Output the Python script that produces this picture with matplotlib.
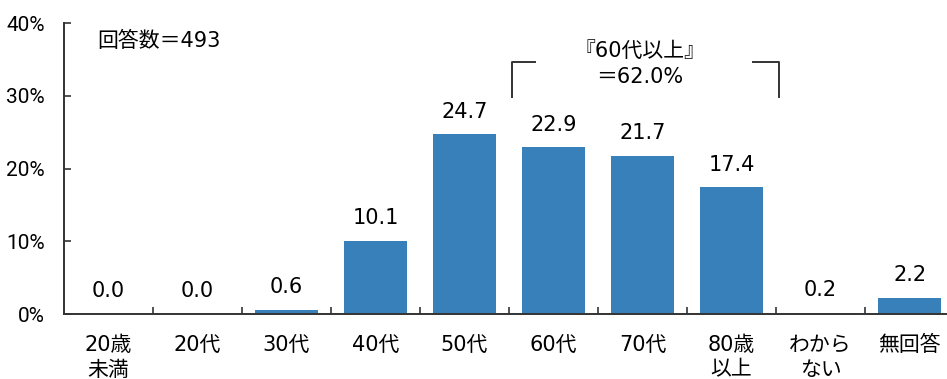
import matplotlib
matplotlib.use("Agg")
import matplotlib.pyplot as plt
import numpy as np

plt.rcParams['font.family'] = ['DejaVu Sans', 'Noto Sans CJK JP']

categories = ["20歳\n未満", "20代", "30代", "40代", "50代", "60代", "70代", "80歳\n以上", "わから\nない", "無回答"]
values = [0.0, 0.0, 0.6, 10.1, 24.7, 22.9, 21.7, 17.4, 0.2, 2.2]
value_labels = ["0.0", "0.0", "0.6", "10.1", "24.7", "22.9", "21.7", "17.4", "0.2", "2.2"]
yticks = [0, 10, 20, 30, 40]
ytick_labels = ["0%", "10%", "20%", "30%", "40%"]
n_label = "回答数＝493"
group_label = "『60代以上』\n＝62.0%"

FS = 15
W, H = 947, 379
fig = plt.figure(figsize=(W / 100, H / 100), dpi=100)
ax = fig.add_axes([64 / W, (H - 314) / H, (947 - 64) / W, (314 - 23) / H])

x = np.arange(len(categories))
ax.bar(x, values, width=0.71, color="#3780BA", zorder=2)

ax.set_xlim(-0.5, 9.42)
ax.set_ylim(0, 40)

for sp in ["top", "right"]:
    ax.spines[sp].set_visible(False)
for sp in ["left", "bottom"]:
    ax.spines[sp].set_linewidth(1.4)
    ax.spines[sp].set_color("#333333")

ax.set_yticks(yticks)
ax.set_yticklabels(ytick_labels, fontsize=FS, family=["Roboto", "DejaVu Sans"])
ax.tick_params(axis="y", direction="in", length=5, width=1.2, pad=14, color="#333333")

ax.set_xticks(x)
ax.set_xticklabels(categories, fontsize=FS, linespacing=1.3, va="top")
ax.tick_params(axis="x", which="major", length=0, pad=15)
ax.set_xticks(np.arange(0.5, 9.0, 1.0), minor=True)
ax.tick_params(axis="x", which="minor", direction="in", length=5, width=1.2, color="#333333")

for xi, v, lab in zip(x, values, value_labels):
    ax.annotate(lab, (xi, v), xytext=(0, 12), textcoords="offset points",
                ha="center", va="baseline", fontsize=FS)

ax.text(-0.13, 37.6, n_label, fontsize=FS, ha="left", va="center")

# bracket
y_top, y_bot = 34.6, 29.8
xl, xr = 4.535, 7.535
ax.plot([xl, xl, xl + 0.26], [y_bot, y_top, y_top], color="#333333", lw=1.4, clip_on=False)
ax.plot([xr - 0.3, xr, xr], [y_top, y_top, y_bot], color="#333333", lw=1.4, clip_on=False)
ax.text(5.97, 34.4, group_label, fontsize=FS, ha="center", va="center", linespacing=1.4)

fig.savefig("out.png", dpi=100)
